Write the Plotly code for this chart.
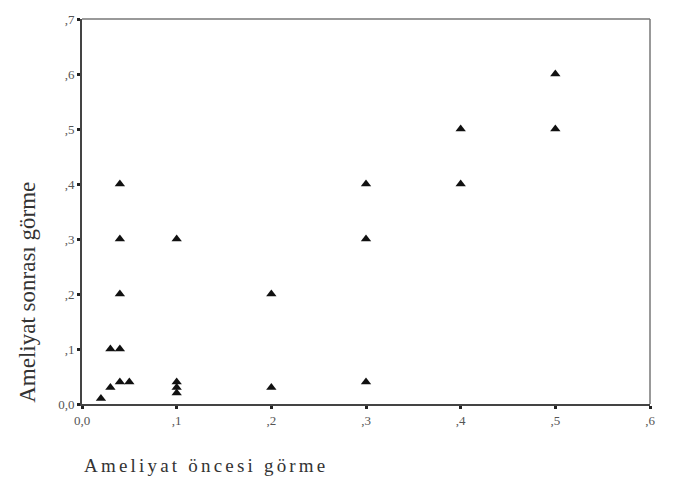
import plotly.graph_objects as go

# data
pre_op = [0.02, 0.03, 0.03, 0.04, 0.04, 0.05, 0.04, 0.04, 0.04,
          0.10, 0.10, 0.10, 0.10,
          0.20, 0.20,
          0.30, 0.30, 0.30,
          0.40, 0.40,
          0.50, 0.50]
post_op = [0.01, 0.03, 0.10, 0.10, 0.04, 0.04, 0.20, 0.30, 0.40,
           0.02, 0.03, 0.04, 0.30,
           0.03, 0.20,
           0.04, 0.30, 0.40,
           0.40, 0.50,
           0.50, 0.60]

x_ticks = [0.0, 0.1, 0.2, 0.3, 0.4, 0.5, 0.6]
x_ticklabels = ["0,0", ",1", ",2", ",3", ",4", ",5", ",6"]
y_ticks = [0.0, 0.1, 0.2, 0.3, 0.4, 0.5, 0.6, 0.7]
y_ticklabels = ["0,0", ",1", ",2", ",3", ",4", ",5", ",6", ",7"]

x_title = "Ameliyat öncesi görme"
y_title = "Ameliyat sonrası görme"

serif = "Liberation Serif, Times New Roman, serif"

fig = go.Figure()
fig.add_trace(go.Scatter(
    x=pre_op, y=post_op, mode="markers",
    marker=dict(symbol="triangle-up", size=9, color="#111111"),
    cliponaxis=False, showlegend=False,
))

axis_common = dict(
    showgrid=False, zeroline=False,
    showline=True, linecolor="#444444", linewidth=2, mirror=False,
    ticks="outside", ticklen=3, tickwidth=3, tickcolor="#222222",
    tickfont=dict(family=serif, size=13, color="#555555"),
)

fig.update_xaxes(range=[0, 0.6], tickvals=x_ticks, ticktext=x_ticklabels, **axis_common)
fig.update_yaxes(range=[0, 0.7], tickvals=y_ticks, ticktext=y_ticklabels, **axis_common)

# lighter top and right frame lines
fig.add_shape(type="line", xref="paper", yref="paper", x0=0, x1=1, y0=1, y1=1,
              line=dict(color="#777777", width=1.5))
fig.add_shape(type="line", xref="paper", yref="paper", x0=1, x1=1, y0=0, y1=1,
              line=dict(color="#777777", width=1.5))

fig.add_annotation(
    text='<span style="letter-spacing:3.2px">' + x_title + '</span>',
    xref="paper", yref="paper", x=0, y=-0.16, xanchor="left", yanchor="middle",
    showarrow=False, font=dict(family=serif, size=19, color="#333333"),
)
fig.add_annotation(
    text=y_title, textangle=-90,
    xref="paper", yref="paper", x=-0.095, y=0.289, xanchor="center", yanchor="middle",
    showarrow=False, font=dict(family=serif, size=23, color="#333333"),
)

fig.update_layout(
    width=676, height=477,
    margin=dict(l=82, r=26, t=17, b=73),
    paper_bgcolor="white", plot_bgcolor="white",
)

fig.write_html("out.html", config={"displayModeBar": False},
               post_script="document.body.style.margin='0';")
